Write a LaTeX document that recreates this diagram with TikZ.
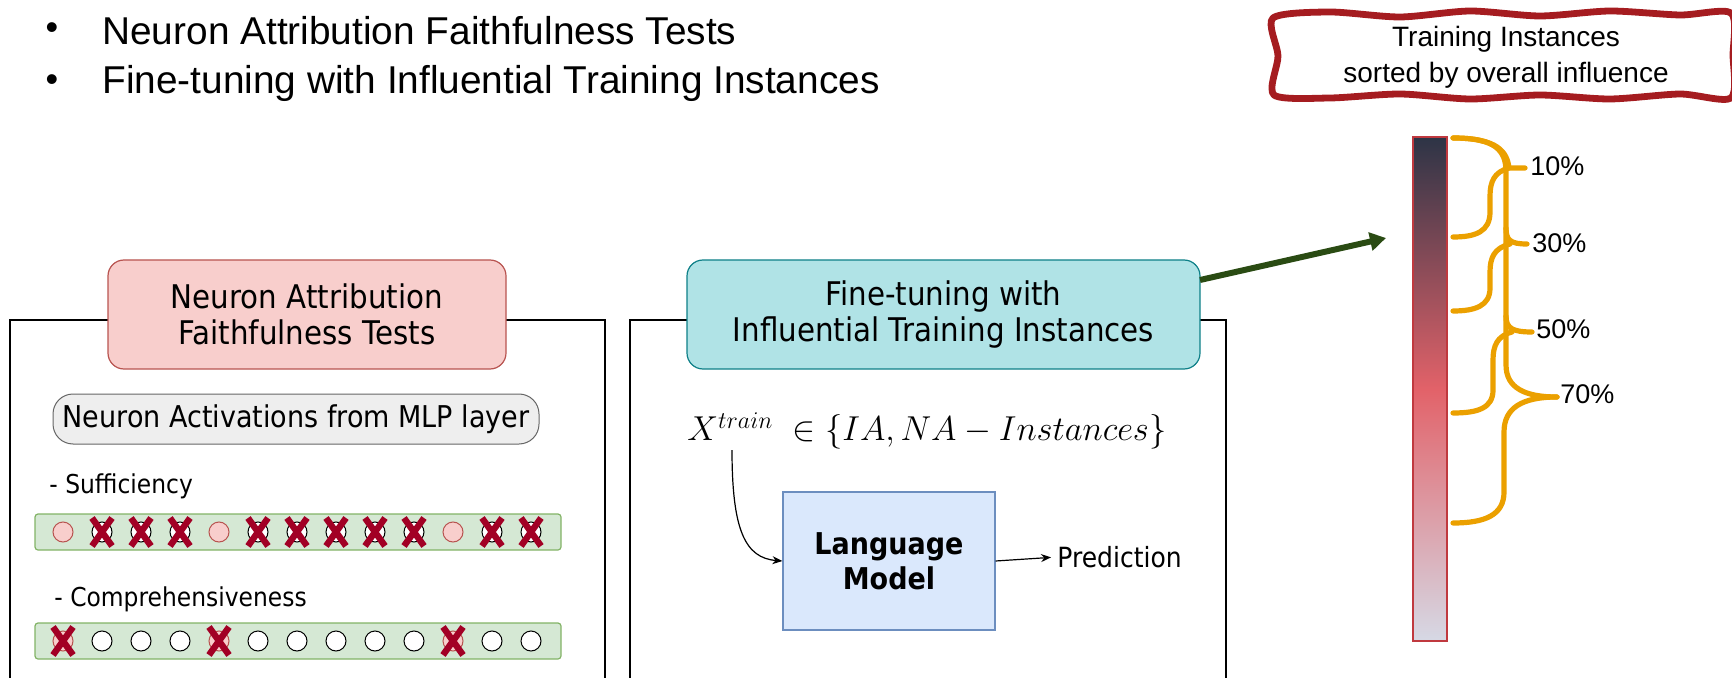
\documentclass[tikz,border=0pt]{standalone}
\usepackage{fontspec}
\setmainfont{Liberation Sans}
\newfontfamily\tah[FakeStretch=0.9]{DejaVu Sans}
\usetikzlibrary{arrows.meta}
\definecolor{pinkF}{HTML}{F8CECC}
\definecolor{pinkD}{HTML}{B85450}
\definecolor{cyanF}{HTML}{B0E3E6}
\definecolor{cyanD}{HTML}{0E8088}
\definecolor{grayF}{HTML}{EEEEEE}
\definecolor{grayD}{HTML}{666666}
\definecolor{greenF}{HTML}{D5E8D4}
\definecolor{greenD}{HTML}{82B366}
\definecolor{blueF}{HTML}{DAE8FC}
\definecolor{blueD}{HTML}{6C8EBF}
\definecolor{xred}{HTML}{A20025}
\definecolor{boxred}{HTML}{A51C20}
\definecolor{brOr}{HTML}{EBA000}
\definecolor{arrG}{HTML}{2A4B13}
\definecolor{barTop}{HTML}{2D3446}
\definecolor{barMid}{HTML}{E26269}
\definecolor{barBot}{HTML}{D6D9E5}
\definecolor{barD}{HTML}{C0393F}
\tikzset{
  panel/.style={draw=black, line width=0.6pt},
  hdr/.style={rounded corners=8pt, line width=0.6pt, align=center, inner sep=0pt,
     font=\tah\fontsize{16.3}{18}\selectfont},
  circ/.style={circle, draw=black, fill=white, line width=0.5pt, minimum size=10pt, inner sep=0pt},
  pcirc/.style={circ, draw=pinkD, fill=pinkF},
  xline/.style={draw=xred, line width=3.2pt},
  bar/.style={draw=greenD, fill=greenF, line width=0.6pt, rounded corners=1.5pt,
     minimum width=263pt, minimum height=18pt, inner sep=0pt},
  brace/.style={draw=brOr, line width=2.6pt, line cap=round},
  lbl/.style={inner sep=0pt, anchor=west},
}
\begin{document}
\begin{tikzpicture}[x=0.5pt,y=-0.5pt]
\useasboundingbox (0,0) rectangle (1732,678);
% bullets
\node[inner sep=0pt, font=\fontsize{18}{22}\selectfont] (d1) at (52,31) {•};
\node[lbl, font=\fontsize{19.4}{22}\selectfont] (b1) at (102,31) {Neuron Attribution Faithfulness Tests};
\node[inner sep=0pt, font=\fontsize{18}{22}\selectfont] (d2) at (52,83) {•};
\node[lbl, font=\fontsize{19.4}{22}\selectfont] (b2) at (102,83) {Fine-tuning with Influential Training Instances};
% panels
\draw[panel] (10,700) -- (10,320) -- (605,320) -- (605,700);
\draw[panel] (630,700) -- (630,320) -- (1226,320) -- (1226,700);
\node[hdr, draw=pinkD, fill=pinkF, minimum width=199pt, minimum height=54.5pt] (h1) at (307,314.5)
  {Neuron Attribution\\Faithfulness Tests};
\node[hdr, draw=cyanD, fill=cyanF, minimum width=256.5pt, minimum height=54.5pt] (h2) at (943.5,314.5)
  {Fine-tuning with\\Influential Training Instances};
% left panel content
\node[draw=grayD, fill=grayF, rounded corners=10pt, line width=0.5pt, minimum width=243pt,
  minimum height=25pt, inner sep=0pt, font=\tah\fontsize{15}{18}\selectfont] (act) at (296,419)
  {Neuron Activations from MLP layer};
\node[lbl, font=\tah\fontsize{13}{16}\selectfont] (suf) at (49,486) {- Sufficiency};
\node[bar] (sbar) at (298,532) {};
\node[lbl, font=\tah\fontsize{13}{16}\selectfont] (com) at (54,599) {- Comprehensiveness};
\node[bar] (cbar) at (298,641) {};
\foreach \i in {0,...,12}{
  \pgfmathsetmacro{\cx}{63+39*\i}
  \ifnum\i=0 \def\pk{1}\else\ifnum\i=4 \def\pk{1}\else\ifnum\i=10 \def\pk{1}\else\def\pk{0}\fi\fi\fi
  \if\pk1
    \node[pcirc] (s\i) at (\cx,532) {};
    \node[pcirc] (c\i) at (\cx,641) {};
    \draw[xline] (\cx-10,641-14) -- (\cx+10,641+14) (\cx-10,641+14) -- (\cx+10,641-14);
  \else
    \node[circ] (s\i) at (\cx,532) {};
    \node[circ] (c\i) at (\cx,641) {};
    \draw[xline] (\cx-10,532-14) -- (\cx+10,532+14) (\cx-10,532+14) -- (\cx+10,532-14);
  \fi
}
% middle panel content
\node[lbl, font=\fontsize{18.2}{22}\selectfont] (math) at (687,431)
  {$X^{train}\;\in\{IA,NA-Instances\}$};
\coordinate (xs) at (732,450);
\node[draw=blueD, fill=blueF, line width=0.6pt, minimum width=106pt, minimum height=69pt,
  align=center, inner sep=0pt, font=\tah\bfseries\fontsize{15}{17.5}\selectfont] (lm) at (889,561)
  {Language\\Model};
\node[lbl, font=\tah\fontsize{13.9}{16}\selectfont] (pred) at (1057,557) {Prediction};
\draw[line width=0.6pt, -{Stealth[length=5pt,width=4pt]}] (xs) .. controls (732,530) and (745,558) .. (lm.west);
\draw[line width=0.6pt, shorten >=3pt, -{Stealth[length=5pt,width=4pt]}] (lm.east) -- (pred.west);
% green arrow
\coordinate (ga) at (1200,280);
\coordinate (gb) at (1386,238);
\draw[arrG, line width=3pt, -{Triangle[length=8pt,width=9pt]}] (ga) -- (gb);
% training instances box
\draw[boxred, line width=3.4pt, line join=round]
  plot[smooth cycle, tension=0.45] coordinates {(1273,18) (1330,12) (1400,17) (1470,11) (1540,16) (1610,11) (1680,15) (1731,13)
  (1733,55) (1731,98) (1680,94) (1610,99) (1540,95) (1470,99) (1400,94) (1330,98) (1274,95) (1278,56)};
\node[align=center, inner sep=0pt, font=\fontsize{14}{18}\selectfont] (ti) at (1506,57)
  {Training Instances\\sorted by overall influence};
% gradient bar
\shade[top color=barTop, bottom color=barBot, middle color=barMid] (1413,137) rectangle (1447,641);
\draw[barD, line width=0.6pt] (1413,137) rectangle (1447,641);
% braces
\draw[brace] (1453,138) .. controls (1498,138) and (1507,152) .. (1509,168) -- (1525,168);
\draw[brace] (1509,168) .. controls (1494,172) and (1490,182) .. (1490,196) -- (1490,212)
  .. controls (1490,232) and (1475,237) .. (1453,237);
\draw[brace] (1453,138) .. controls (1495,138) and (1506,150) .. (1506,172) -- (1506,228)
  .. controls (1506,240) and (1510,244) .. (1527,244);
\draw[brace] (1510,244) .. controls (1494,248) and (1490,258) .. (1490,272) -- (1490,288)
  .. controls (1490,306) and (1475,311) .. (1453,311);
\draw[brace] (1506,228) -- (1506,316) .. controls (1506,328) and (1512,332) .. (1532,332);
\draw[brace] (1512,332) .. controls (1497,336) and (1493,346) .. (1493,360) -- (1493,390)
  .. controls (1493,408) and (1478,413) .. (1453,413);
\draw[brace] (1506,316) -- (1506,365) .. controls (1506,388) and (1525,397) .. (1557,397);
\draw[brace] (1557,397) .. controls (1522,397) and (1504,408) .. (1504,432) -- (1504,492)
  .. controls (1504,515) and (1485,523) .. (1453,523);
\node[lbl, font=\fontsize{13.5}{16}\selectfont] (p10) at (1530,166) {10\%};
\node[lbl, font=\fontsize{13.5}{16}\selectfont] (p30) at (1532,243) {30\%};
\node[lbl, font=\fontsize{13.5}{16}\selectfont] (p50) at (1536,329) {50\%};
\node[lbl, font=\fontsize{13.5}{16}\selectfont] (p70) at (1560,394) {70\%};
\end{tikzpicture}
\end{document}
